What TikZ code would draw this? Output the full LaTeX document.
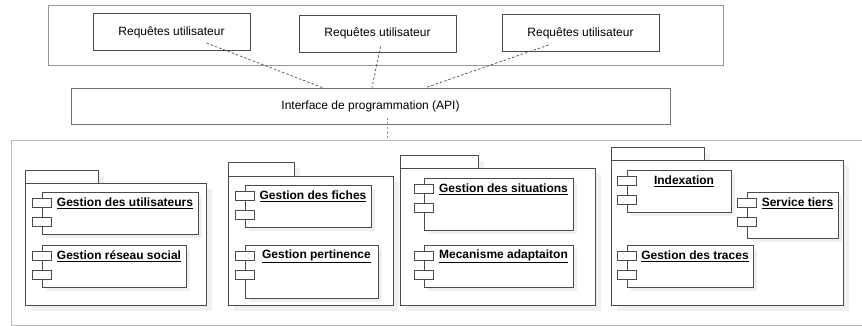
\documentclass[tikz,border=0pt]{standalone}
\usepackage{fontspec}
\setmainfont{Liberation Sans}
\usetikzlibrary{positioning,calc}
\definecolor{FrameGrey}{RGB}{150,150,150}
\definecolor{LightFrame}{RGB}{185,185,185}
\definecolor{EdgeGrey}{RGB}{75,75,75}
\definecolor{ShadowGrey}{RGB}{240,240,240}
\tikzset{
  reqbox/.style={draw=EdgeGrey, line width=0.8pt, minimum width=157pt, minimum height=37pt, inner sep=0pt, font=\fontsize{12}{14}\selectfont},
  apibox/.style={draw=EdgeGrey!80, line width=0.7pt, minimum width=599pt, minimum height=36pt, inner sep=0pt, font=\fontsize{12}{14}\selectfont},
  pkgpart/.style={draw=EdgeGrey, line width=0.8pt, fill=white, inner sep=0pt, anchor=north west},
  compbox/.style={draw=EdgeGrey, line width=0.8pt, fill=white, inner sep=0pt, anchor=north west},
  port/.style={draw=EdgeGrey, line width=0.8pt, fill=white, inner sep=0pt, minimum width=19pt, minimum height=8.5pt},
  complabel/.style={font=\bfseries\fontsize{12}{14}\selectfont, inner sep=0pt},
  link/.style={dashed, dash pattern=on 2.5pt off 2pt, draw=EdgeGrey, line width=0.7pt},
}
% package: name, x, tab top, tab width, body top, body right, body bottom
\newcommand{\umlpkg}[7]{%
  \fill[ShadowGrey] (#2+6,#3+6) rectangle (#2+#4+6,#5+6);
  \fill[ShadowGrey] (#2+6,#5+6) rectangle (#6+6,#7+6);
  \node[pkgpart, minimum width=#4pt, minimum height={(#5-#3)*1pt}] (#1-tab) at (#2,#3) {};
  \node[pkgpart, minimum width={(#6-#2)*1pt}, minimum height={(#7-#5)*1pt}] (#1) at (#2,#5) {};
}
% component: name, x, y, width, height, label
\newcommand{\umlcomp}[6]{%
  \fill[ShadowGrey] (#2+4,#3+4) rectangle (#2+#4+4,#3+#5+4);
  \node[compbox, minimum width=#4pt, minimum height=#5pt] (#1) at (#2,#3) {};
  \node[port] (#1-p1) at ($(#1.north west)+(0,11)$) {};
  \node[port] (#1-p2) at ($(#1.north west)+(0,30)$) {};
  \node[complabel] (#1-t) at ($(#1.north west)+({10+(#4-10)/2},11)$) {\underline{#6}};
}
\begin{document}
\begin{tikzpicture}[x=1pt, y=-1pt]
  \useasboundingbox (0,0) rectangle (862,326);
  % user layer
  \node[draw=FrameGrey, line width=0.7pt, minimum width=675pt, minimum height=60pt, anchor=north west] (users) at (48,5) {};
  \node[reqbox] (req1) at (171.5,32) {Requêtes utilisateur};
  \node[reqbox] (req2) at (377.5,33.5) {Requêtes utilisateur};
  \node[reqbox] (req3) at (580.5,33) {Requêtes utilisateur};
  % API
  \node[apibox] (api) at (370.5,106) {Interface de programmation (API)};
  % core frame
  \node[draw=LightFrame, line width=0.7pt, minimum width=880pt, minimum height=185pt, anchor=north west] (core) at (11,140) {};
  \draw[link] (req1.center) ++(35,11) -- ($(api.north)+(-48,0)$);
  \draw[link] (req2.center) ++(3,13) -- ($(api.north)+(1.5,0)$);
  \draw[link] (req3.center) ++(-32,12) -- ($(api.north)+(55,0)$);
  \coordinate (apidrop) at ($(api.center)+(16.5,12)$);
  \draw[link, draw=FrameGrey] (apidrop) -- (apidrop |- core.north);
  % packages
  \umlpkg{pkgA}{25}{170}{73}{183}{206}{305}
  \umlpkg{pkgB}{228}{162}{66}{176}{393}{305}
  \umlpkg{pkgC}{400}{155}{78}{168}{595}{305}
  \umlpkg{pkgD}{611}{147}{93}{160}{843}{305}
  % components
  \umlcomp{users-mgmt}{42}{192}{156}{42}{Gestion des utilisateurs}
  \umlcomp{social}{42}{245}{144}{42}{Gestion réseau social}
  \umlcomp{sheets}{245}{185}{126}{42}{Gestion des fiches}
  \umlcomp{relevance}{245}{245}{133}{53}{Gestion pertinence}
  \umlcomp{situations}{424}{178}{149}{52}{Gestion des situations}
  \umlcomp{adaptation}{424}{245}{149}{42}{Mecanisme adaptaiton}
  \umlcomp{indexing}{627}{170}{104}{42}{Indexation}
  \umlcomp{thirdparty}{747}{192}{91}{46}{Service tiers}
  \umlcomp{traces}{627}{245}{126}{42}{Gestion des traces}
\end{tikzpicture}
\end{document}
